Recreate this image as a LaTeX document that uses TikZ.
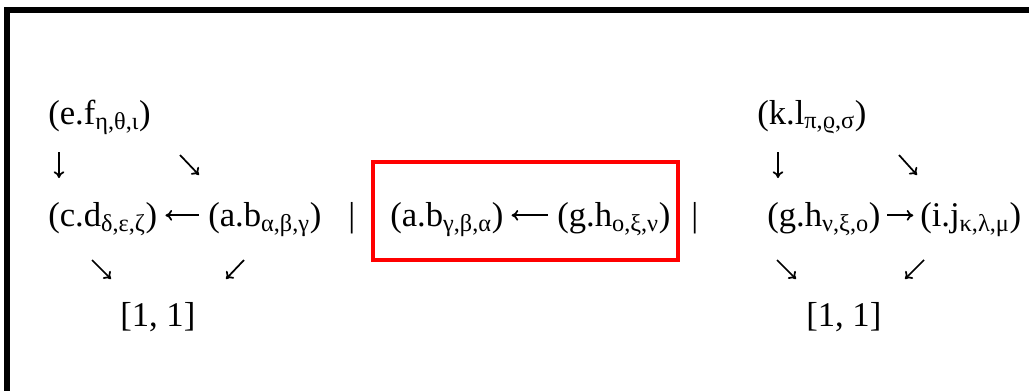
\documentclass[tikz,border=0pt]{standalone}
\usepackage{fontspec}
\setmainfont{Liberation Serif}
\usetikzlibrary{arrows.meta}

\newcommand{\lo}[1]{\textsubscript{#1}}

\begin{document}
\begin{tikzpicture}[x=0.75pt, y=-0.75pt,
    term/.style={anchor=base west, inner sep=0pt, text height=24pt, text depth=8pt,
      font=\fontsize{26}{31}\selectfont},
    arr/.style={line width=1.3pt, -{To[length=5pt, width=8pt]}},
    harr/.style={arr, shorten <=7pt, shorten >=6pt}]
  \useasboundingbox (0,0) rectangle (1029,390);
  \draw[line width=4.5pt] (7,10) rectangle (1040,400);
  \draw[red, line width=3pt] (373,162) rectangle (678,260);

  % left diagram
  \node[term] (ef) at (48,124) {(e.f\lo{η,θ,ι})};
  \node[term] (cd) at (48,226) {(c.d\lo{δ,ε,ζ})};
  \node[term] (ab) at (208,226) {(a.b\lo{α,β,γ})};
  \node[term] (one) at (120,326) {[1, 1]};
  \node[term] (bar1) at (348,226) {|};

  % middle
  \node[term] (ab2) at (390,226) {(a.b\lo{γ,β,α})};
  \node[term] (gh2) at (557,226) {(g.h\lo{ο,ξ,ν})};
  \node[term] (bar2) at (691,226) {|};

  % right diagram
  \node[term] (kl) at (757,124) {(k.l\lo{π,ϱ,σ})};
  \node[term] (gh) at (767,226) {(g.h\lo{ν,ξ,ο})};
  \node[term] (ij) at (920,226) {(i.j\lo{κ,λ,μ})};
  \node[term] (one2) at (806,326) {[1, 1]};

  \coordinate (a1) at (59,152);  \coordinate (b1) at (59,178);
  \coordinate (a2) at (180,155); \coordinate (b2) at (199,175);
  \coordinate (a3) at (92,260);  \coordinate (b3) at (111,279);
  \coordinate (a4) at (244,260); \coordinate (b4) at (226,279);
  \coordinate (a5) at (778,152); \coordinate (b5) at (778,178);
  \coordinate (a6) at (899,155); \coordinate (b6) at (917,175);
  \coordinate (a7) at (777,260); \coordinate (b7) at (796,279);
  \coordinate (a8) at (924,260); \coordinate (b8) at (905,279);

  \draw[arr] (a1) -- (b1);
  \draw[arr] (a2) -- (b2);
  \draw[arr] (a3) -- (b3);
  \draw[arr] (a4) -- (b4);
  \draw[arr] (a5) -- (b5);
  \draw[arr] (a6) -- (b6);
  \draw[arr] (a7) -- (b7);
  \draw[arr] (a8) -- (b8);

  \draw[harr] (ab.west) -- (cd.east);
  \draw[harr] (gh2.west) -- (ab2.east);
  \draw[harr, shorten <=5pt, shorten >=5pt] (gh.east) -- (ij.west);
\end{tikzpicture}
\end{document}
